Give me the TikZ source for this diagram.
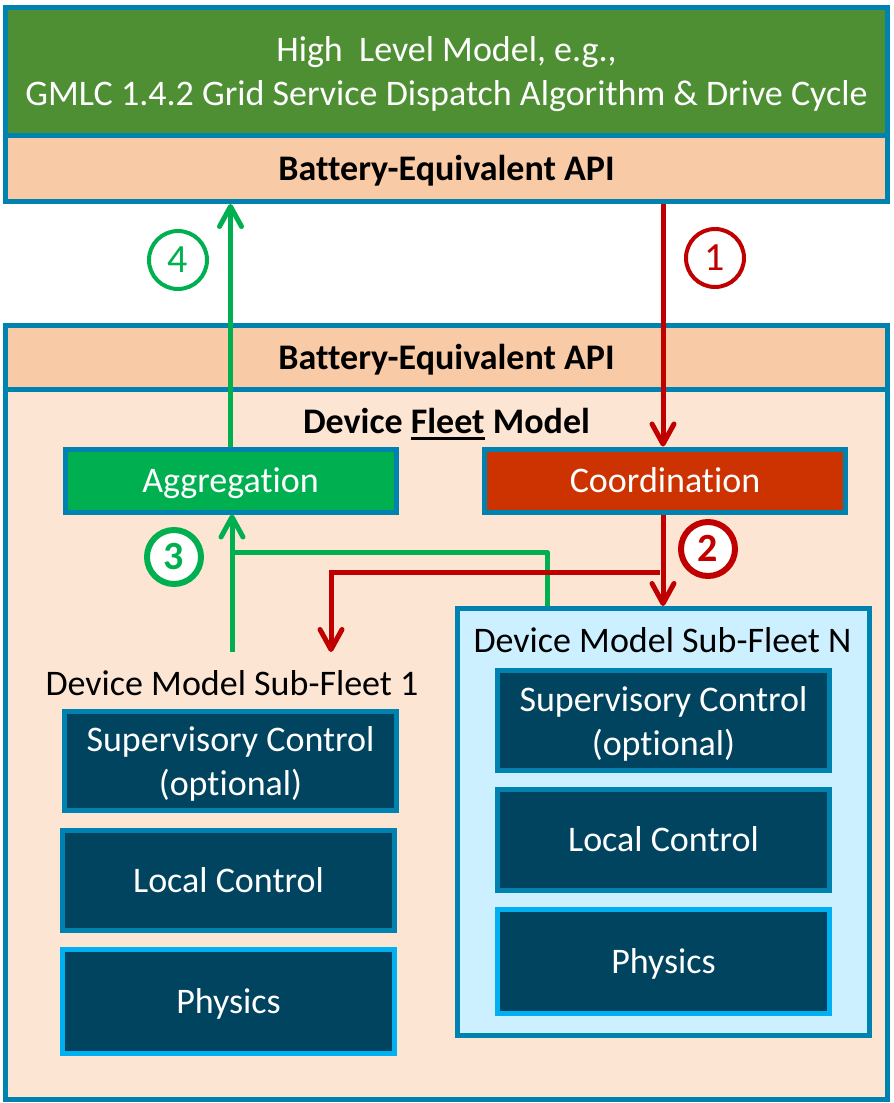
\documentclass[tikz,border=0pt]{standalone}
\usepackage{fontspec}
\setmainfont{Carlito}[Ligatures={NoCommon,NoRare,NoContextual}]
\usetikzlibrary{arrows.meta}
\definecolor{bordc}{HTML}{0082B0}
\definecolor{physb}{HTML}{00B0F0}
\definecolor{topgreen}{HTML}{4E8F34}
\definecolor{peach}{HTML}{F9CAA6}
\definecolor{lightpeach}{HTML}{FDE5D4}
\definecolor{aggc}{HTML}{00B050}
\definecolor{coordc}{HTML}{CC3300}
\definecolor{darkteal}{HTML}{00445F}
\definecolor{subnc}{HTML}{CCF0FF}
\definecolor{garrowc}{HTML}{00B050}
\definecolor{redc}{HTML}{C00000}
\newcommand\fleetul[1]{\vtop{\hbox{#1}\kern3.5pt\hrule height 3pt}}
\begin{document}
\begin{tikzpicture}[x=1pt,y=-1pt,
  big/.style={font=\fontsize{36}{44}\selectfont},
  bigb/.style={font=\fontsize{36}{44}\selectfont\bfseries},
  capc/.style={text height=23.2pt,text depth=0pt},
  box/.style={draw=bordc,line width=5pt,inner sep=0pt,big},
  darkbox/.style={box,fill=darkteal,text=white},
  physbox/.style={darkbox,draw=physb},
  numc/.style={circle,line width=4pt,minimum size=58pt,inner sep=0pt,
     font=\fontsize{40}{40}\selectfont,text height=25pt,text depth=0pt},
  numcb/.style={numc,line width=6pt,minimum size=54pt,fill=white,
     font=\fontsize{40}{40}\selectfont\bfseries},
  tipb/.style={-{Straight Barb[length=20pt,width=22pt,round]}},
  gline/.style={draw=garrowc,line width=5pt},
  rline/.style={draw=redc,line width=5pt},
]
\useasboundingbox (0,0) rectangle (894,1103);
% top block
\node[box,fill=topgreen,text=white,minimum width=882pt,minimum height=128pt,align=center,text depth=0pt]
  (hl) at (446.5,71.5) {High\ \ Level Model, e.g.,\\GMLC 1.4.2 Grid Service Dispatch Algorithm \& Drive Cycle};
\node[box,fill=peach,capc,bigb,minimum width=882pt,minimum height=66pt]
  (api1) at (446.5,168.5) {Battery-Equivalent API};
% fleet block
\node[box,fill=lightpeach,minimum width=882pt,minimum height=774pt] (fleet) at (446.5,712.5) {};
\node[box,fill=peach,capc,bigb,minimum width=882pt,minimum height=64pt]
  (api2) at (446.5,357.5) {Battery-Equivalent API};
\node[capc,bigb,inner sep=0pt] (dfm) at (446.5,421.5) {Device \fleetul{Fleet} Model};
\node[box,fill=aggc,text=white,capc,minimum width=331pt,minimum height=63pt] (agg) at (230.5,480.5) {Aggregation};
\node[box,fill=coordc,text=white,capc,minimum width=361pt,minimum height=63pt] (coord) at (665,480.5) {Coordination};
% sub-fleet N
\node[box,fill=subnc,minimum width=412pt,minimum height=426.5pt] (subN) at (663,821.75) {};
\node[capc,big,inner sep=0pt] (subNlbl) at (662.5,641) {Device Model Sub-Fleet N};
\node[darkbox,align=center,text depth=0pt,minimum width=332pt,minimum height=100pt] (supN) at (663.5,720.5) {Supervisory Control\\(optional)};
\node[darkbox,capc,minimum width=332pt,minimum height=101pt] (locN) at (663.5,840) {Local Control};
\node[physbox,capc,minimum width=332pt,minimum height=104pt] (phyN) at (663.5,961.5) {Physics};
% sub-fleet 1
\node[capc,big,inner sep=0pt] (sub1lbl) at (232,683.5) {Device Model Sub-Fleet 1};
\node[darkbox,align=center,text depth=0pt,minimum width=332pt,minimum height=99pt] (sup1) at (230.5,761) {Supervisory Control\\(optional)};
\node[darkbox,capc,minimum width=332pt,minimum height=100pt] (loc1) at (228.5,880.5) {Local Control};
\node[physbox,capc,minimum width=332pt,minimum height=104pt] (phy1) at (228.5,1001.5) {Physics};
% connectors
\coordinate (r1) at (663,0);
\coordinate (gb) at (232,652);
\coordinate (gs) at (547,552);
\coordinate (rs) at (660,572);
\coordinate (rb) at (331,652);
\draw[gline,tipb] (agg.north) -- (agg.north |- api1.south);
\draw[rline,tipb] (api1.south -| r1) -- (coord.north -| r1);
\draw[gline,tipb] (gb) -- (agg.south -| gb);
\draw[gline,line join=round] (subN.north -| gs) -- (gs) -- (gs -| gb);
\draw[rline,tipb] (coord.south -| r1) -- (subN.north -| r1);
\draw[rline,tipb] (rs) -- (rs -| rb) -- (rb);
% numbers
\node[numc,draw=garrowc,text=garrowc] (n4) at (178,260) {4};
\node[numc,draw=redc,text=redc] (n1) at (715,258) {1};
\node[numcb,draw=garrowc,text=garrowc] (n3) at (174,557) {3};
\node[numcb,draw=redc,text=redc] (n2) at (708,549) {2};
\end{tikzpicture}
\end{document}
